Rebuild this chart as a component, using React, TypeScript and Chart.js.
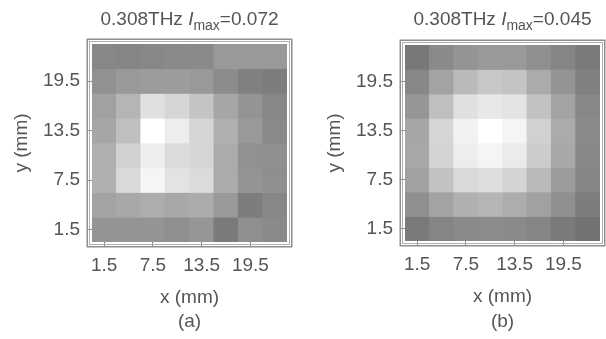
import React, { useEffect, useRef } from 'react';
import { Chart, registerables } from 'chart.js';

Chart.register(...registerables);

// ---- data ----
const X_LABELS = ['1.5', '4.5', '7.5', '10.5', '13.5', '16.5', '19.5', '22.5'];
const ROW_Y = [22.5, 19.5, 16.5, 13.5, 10.5, 7.5, 4.5, 1.5]; // rows top -> bottom (mm)
const CELL_MM = 3;
const Y_TICKS = [1.5, 7.5, 13.5, 19.5];
const X_TICK_LABELS = ['1.5', '7.5', '13.5', '19.5'];

const FREQ = '0.308THz';
const IMAX_A = '0.072';
const IMAX_B = '0.045';

// relative intensity (1 = white), rows top -> bottom, columns left -> right
const INTENSITY_A = [
  [0.53, 0.52, 0.53, 0.54, 0.54, 0.6, 0.6, 0.6],
  [0.57, 0.6, 0.61, 0.61, 0.6, 0.55, 0.5, 0.49],
  [0.63, 0.71, 0.88, 0.84, 0.77, 0.65, 0.58, 0.53],
  [0.65, 0.75, 1.0, 0.93, 0.84, 0.69, 0.6, 0.54],
  [0.69, 0.82, 0.93, 0.86, 0.84, 0.67, 0.57, 0.56],
  [0.69, 0.85, 0.96, 0.89, 0.86, 0.67, 0.58, 0.56],
  [0.64, 0.66, 0.68, 0.66, 0.67, 0.6, 0.49, 0.53],
  [0.58, 0.58, 0.58, 0.56, 0.59, 0.48, 0.56, 0.54],
];

const INTENSITY_B = [
  [0.47, 0.54, 0.58, 0.6, 0.6, 0.56, 0.52, 0.48],
  [0.53, 0.64, 0.73, 0.78, 0.77, 0.67, 0.58, 0.5],
  [0.59, 0.75, 0.88, 0.91, 0.89, 0.76, 0.64, 0.53],
  [0.65, 0.84, 0.95, 1.0, 0.96, 0.82, 0.67, 0.54],
  [0.66, 0.83, 0.93, 0.96, 0.92, 0.8, 0.66, 0.53],
  [0.63, 0.76, 0.85, 0.87, 0.83, 0.73, 0.61, 0.52],
  [0.56, 0.64, 0.69, 0.71, 0.68, 0.63, 0.56, 0.49],
  [0.48, 0.52, 0.54, 0.55, 0.54, 0.52, 0.48, 0.45],
];

// ---- style ----
const FONT = "'Liberation Sans', Arial, sans-serif";
const TEXT = '#555555';
const FS = 19;

function gray(v: number) {
  const g = Math.round(Math.max(0, Math.min(1, v)) * 255);
  return `rgb(${g},${g},${g})`;
}

type Props = {
  grid: number[][];
  imax: string;
  panel: string;
  left: number;
  padTop: number;
  padBottom: number;
};

function Heatmap({ grid, imax, panel, left, padTop, padBottom }: Props) {
  const ref = useRef<HTMLCanvasElement | null>(null);

  useEffect(() => {
    if (!ref.current) return;

    const decor = {
      id: 'decor',
      afterDraw(chart: any) {
        const { ctx, chartArea: a } = chart;
        ctx.save();
        // double frame
        ctx.strokeStyle = '#b0b0b0';
        ctx.lineWidth = 1;
        ctx.strokeRect(a.left - 2.5, a.top - 2.5, a.right - a.left + 5, a.bottom - a.top + 5);
        ctx.strokeStyle = '#8e8e8e';
        ctx.lineWidth = 1.5;
        ctx.strokeRect(a.left - 4.75, a.top - 4.75, a.right - a.left + 9.5, a.bottom - a.top + 9.5);

        // title: 0.308THz I_max=...
        const cx = (a.left + a.right) / 2;
        const base = 25;
        const parts = [
          { t: FREQ + ' ', f: `${FS}px ${FONT}`, dy: 0 },
          { t: 'I', f: `italic ${FS}px ${FONT}`, dy: 0 },
          { t: 'max', f: `14px ${FONT}`, dy: 5 },
          { t: '=' + imax, f: `${FS}px ${FONT}`, dy: 0 },
        ];
        let total = 0;
        const widths = parts.map((p) => {
          ctx.font = p.f;
          const w = ctx.measureText(p.t).width;
          total += w;
          return w;
        });
        let x = cx - total / 2;
        ctx.fillStyle = TEXT;
        ctx.textBaseline = 'alphabetic';
        ctx.textAlign = 'left';
        parts.forEach((p, i) => {
          ctx.font = p.f;
          ctx.fillText(p.t, x, base + p.dy);
          x += widths[i];
        });

        // panel label
        ctx.font = `${FS}px ${FONT}`;
        ctx.textAlign = 'center';
        ctx.textBaseline = 'middle';
        ctx.fillText(panel, cx, 322);
        ctx.restore();
      },
    };

    const datasets = ROW_Y.map((y, r) => ({
      data: X_LABELS.map(() => [y - CELL_MM / 2, y + CELL_MM / 2]),
      backgroundColor: grid[r].map((v) => gray(v)),
      borderWidth: 0,
      grouped: false,
      categoryPercentage: 1,
      barPercentage: 1,
    }));

    const tickFont = { family: FONT, size: FS };

    const chart = new Chart(ref.current, {
      type: 'bar',
      data: { labels: X_LABELS, datasets: datasets as any },
      options: {
        responsive: false,
        animation: false,
        events: [],
        layout: { padding: { top: padTop, right: 16, bottom: padBottom, left: 0 } },
        plugins: {
          legend: { display: false },
          tooltip: { enabled: false },
          title: { display: false },
        },
        scales: {
          x: {
            type: 'category',
            offset: true,
            stacked: false,
            grid: {
              display: true,
              drawOnChartArea: false,
              drawTicks: true,
              tickLength: 4,
              offset: false,
              tickColor: (c: any) =>
                X_TICK_LABELS.includes(X_LABELS[c.index]) ? '#888888' : 'rgba(0,0,0,0)',
            },
            border: { display: false },
            ticks: {
              autoSkip: false,
              maxRotation: 0,
              minRotation: 0,
              padding: 8,
              color: TEXT,
              font: tickFont,
              callback: (_v: any, i: number) =>
                X_TICK_LABELS.includes(X_LABELS[i]) ? X_LABELS[i] : '',
            },
            title: {
              display: true,
              text: 'x (mm)',
              color: TEXT,
              font: tickFont,
              padding: { top: 0, bottom: 3 },
            },
            afterFit: (s: any) => {
              s.height = 70;
            },
          },
          y: {
            type: 'linear',
            min: 0,
            max: 24,
            stacked: false,
            afterBuildTicks: (s: any) => {
              s.ticks = Y_TICKS.map((v) => ({ value: v }));
            },
            grid: {
              display: true,
              drawOnChartArea: false,
              drawTicks: true,
              tickLength: 4,
              tickColor: '#888888',
            },
            border: { display: false },
            ticks: {
              padding: 8,
              color: TEXT,
              font: tickFont,
              callback: (v: any) => String(v),
            },
            title: {
              display: true,
              text: 'y (mm)',
              color: TEXT,
              font: tickFont,
              padding: { top: 10, bottom: 0 },
            },
            afterFit: (s: any) => {
              s.width = 92;
            },
          },
        },
      } as any,
      plugins: [decor],
    });

    return () => chart.destroy();
  }, [grid, imax, panel, padTop, padBottom]);

  return (
    <canvas
      ref={ref}
      width={303}
      height={339}
      style={{ position: 'absolute', left, top: 0, width: 303, height: 339 }}
    />
  );
}

export default function App() {
  return (
    <div
      style={{
        position: 'fixed',
        left: 0,
        top: 0,
        width: 606,
        height: 339,
        overflow: 'hidden',
        background: '#ffffff',
      }}
    >
      <Heatmap grid={INTENSITY_A} imax={IMAX_A} panel="(a)" left={0} padTop={44} padBottom={27} />
      <Heatmap grid={INTENSITY_B} imax={IMAX_B} panel="(b)" left={313} padTop={45} padBottom={28} />
    </div>
  );
}
